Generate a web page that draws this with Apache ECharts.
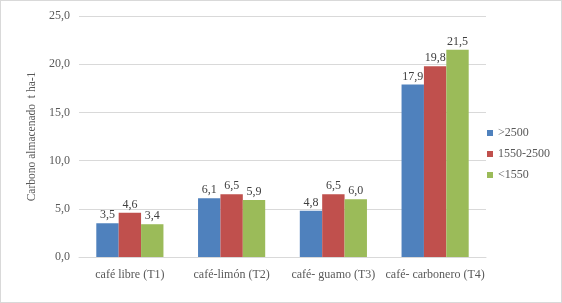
<!DOCTYPE html>
<html>
<head>
<meta charset="utf-8">
<script src="https://cdn.jsdelivr.net/npm/echarts@6/dist/echarts.min.js"></script>
<style>
  html, body { margin: 0; padding: 0; background: #fff; }
  #chart { width: 560px; height: 301px; border: 1px solid #d9d9d9; }
</style>
</head>
<body>
<div id="chart"></div>
<script>
var categories = ['café libre (T1)', 'café-limón (T2)', 'café- guamo (T3)', 'café- carbonero (T4)']
var seriesNames = ['>2500', '1550-2500', '<1550']
var over2500 = [3.5, 6.1, 4.8, 17.9]
var mid1550 = [4.6, 6.5, 6.5, 19.8]
var under1550 = [3.4, 5.9, 6.0, 21.5]
var colors = ['#4f81bd', '#c0504d', '#9bbb59']

var font = 'Liberation Serif, Times New Roman, serif'
var chart = echarts.init(document.getElementById('chart'))

function fmt(v) {
  return v.toFixed(1).replace('.', ',')
}

function makeSeries(name, data, idx) {
  return {
    name: name,
    type: 'bar',
    data: data,
    barGap: '0%',
    barCategoryGap: '34%',
    itemStyle: { color: colors[idx] },
    label: {
      show: true,
      position: 'top',
      distance: 2,
      color: '#404040',
      fontFamily: font,
      fontSize: 12,
      formatter: function (p) { return fmt(p.value) }
    }
  }
}

var option = {
  animation: false,
  textStyle: { fontFamily: font },
  legend: {
    orient: 'vertical',
    left: 481,
    top: 121,
    itemWidth: 6,
    itemHeight: 6,
    itemGap: 9,
    icon: 'rect',
    textStyle: { color: '#595959', fontSize: 12, fontFamily: font },
    data: seriesNames
  },
  grid: {
    left: 78,
    right: 75,
    top: 15,
    bottom: 45
  },
  xAxis: {
    type: 'category',
    data: categories,
    axisTick: { show: false },
    axisLine: { lineStyle: { color: '#d9d9d9' } },
    axisLabel: { color: '#595959', fontSize: 12, fontFamily: font, margin: 12, interval: 0 }
  },
  yAxis: {
    type: 'value',
    min: 0,
    max: 25,
    interval: 5,
    name: 'Carbono almacenado  t ha-1',
    nameLocation: 'middle',
    nameGap: 36,
    nameTextStyle: { color: '#595959', fontSize: 11.5, fontFamily: font },
    axisLine: { show: false },
    axisTick: { show: false },
    axisLabel: { color: '#595959', fontSize: 12, fontFamily: font, margin: 9, formatter: fmt },
    splitLine: { lineStyle: { color: '#d9d9d9' } }
  },
  series: [
    makeSeries(seriesNames[0], over2500, 0),
    makeSeries(seriesNames[1], mid1550, 1),
    makeSeries(seriesNames[2], under1550, 2)
  ]
}

chart.setOption(option)
</script>
</body>
</html>
